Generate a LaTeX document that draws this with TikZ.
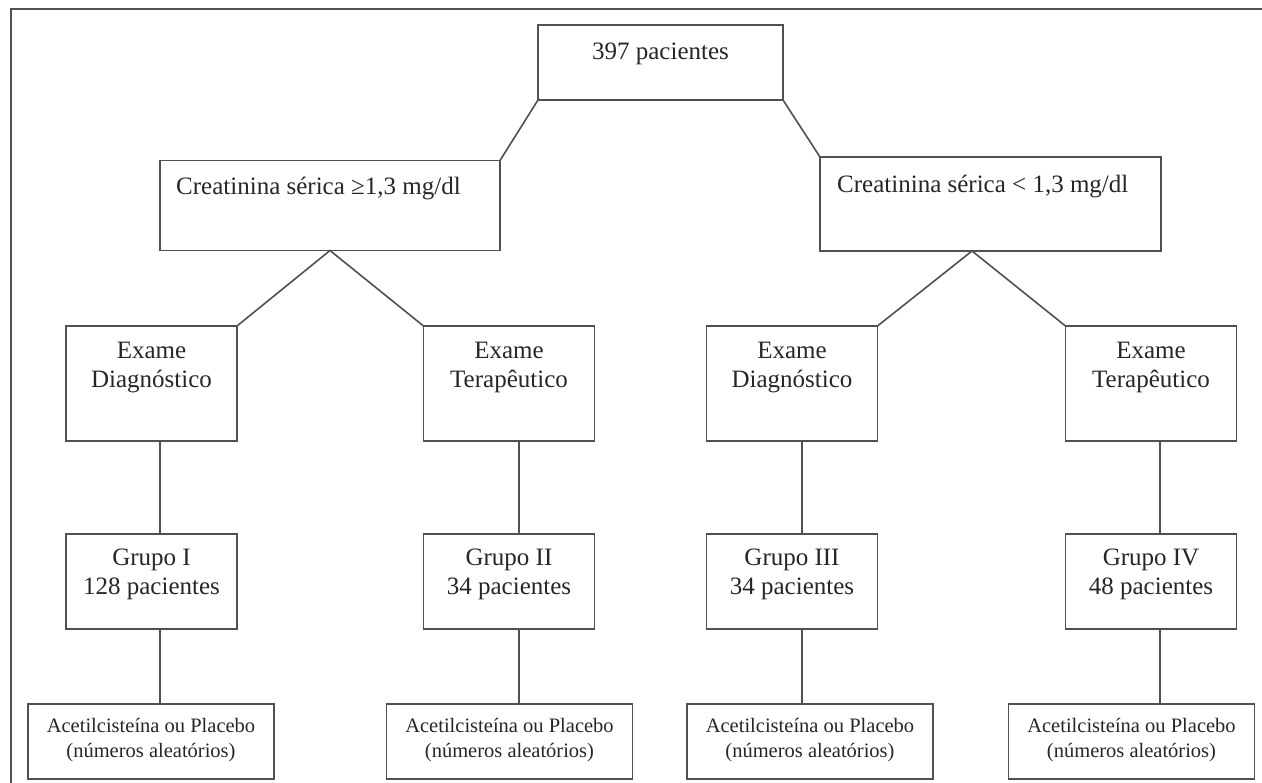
\documentclass[tikz,border=0pt]{standalone}
\usepackage{fontspec}
\setmainfont{Liberation Serif}
\usetikzlibrary{calc}
\definecolor{ln}{HTML}{505050}
\definecolor{tx}{HTML}{262626}
\tikzset{
  box/.style={draw=ln, line width=1.6pt, rectangle, inner sep=0pt, outer sep=0pt},
  bigtxt/.style={inner sep=0pt, text=tx, font=\fontsize{25}{29}\selectfont, align=center},
  smalltxt/.style={inner sep=0pt, text=tx, font=\fontsize{20.5}{25}\selectfont, align=center},
  conn/.style={draw=ln, line width=1.6pt},
  exbox/.style={box, minimum width=171pt, minimum height=115pt},
  grbox/.style={box, minimum width=171pt, minimum height=95pt},
  acbox/.style={box, minimum width=246pt, minimum height=75pt}
}
\begin{document}
\begin{tikzpicture}[x=1pt,y=-1pt]
\useasboundingbox (0,0) rectangle (1262,783);
% frame
\draw[ln, line width=1.4pt] (11,783) -- (11,9) -- (1262,9);

% top
\node[box, minimum width=245pt, minimum height=75pt] (top) at (660.5,62.5) {};
\node[bigtxt, anchor=north] (topt) at ([yshift=-17.5pt]top.north) {397 pacientes};

% creatinina
\node[box, minimum width=340pt, minimum height=90pt] (lc) at (330,205.5) {};
\node[bigtxt, anchor=north west] (lct) at (176,176.5) {Creatinina sérica ≥1,3 mg/dl};
\node[box, minimum width=341pt, minimum height=94pt] (rc) at (990.5,204) {};
\node[bigtxt, anchor=north west] (rct) at (837,174.5) {Creatinina sérica < 1,3 mg/dl};
\coordinate (rcap) at (972,251);

% exame
\node[exbox] (ex1) at (151.5,383.5) {};
\node[exbox] (ex2) at (509,383.5) {};
\node[exbox] (ex3) at (792,383.5) {};
\node[exbox] (ex4) at (1151,383.5) {};
\node[bigtxt, anchor=north] (ex1t) at ([yshift=-15.5pt]ex1.north) {Exame\\Diagnóstico};
\node[bigtxt, anchor=north] (ex2t) at ([yshift=-15.5pt]ex2.north) {Exame\\Terapêutico};
\node[bigtxt, anchor=north] (ex3t) at ([yshift=-15.5pt]ex3.north) {Exame\\Diagnóstico};
\node[bigtxt, anchor=north] (ex4t) at ([yshift=-15.5pt]ex4.north) {Exame\\Terapêutico};

% grupos
\node[grbox] (g1) at (151.5,581.5) {};
\node[grbox] (g2) at (509,581.5) {};
\node[grbox] (g3) at (792,581.5) {};
\node[grbox] (g4) at (1151,581.5) {};
\node[bigtxt, anchor=north] (g1t) at ([yshift=-14.5pt]g1.north) {Grupo I\\128 pacientes};
\node[bigtxt, anchor=north] (g2t) at ([yshift=-14.5pt]g2.north) {Grupo II\\34 pacientes};
\node[bigtxt, anchor=north] (g3t) at ([yshift=-14.5pt]g3.north) {Grupo III\\34 pacientes};
\node[bigtxt, anchor=north] (g4t) at ([yshift=-14.5pt]g4.north) {Grupo IV\\48 pacientes};

% acetilcisteina
\node[acbox] (a1) at (151,741.5) {};
\node[acbox] (a2) at (509.5,741.5) {};
\node[acbox] (a3) at (810,741.5) {};
\node[acbox] (a4) at (1131.5,741.5) {};
\foreach \i in {1,2,3,4}{
  \node[smalltxt, anchor=north] (a\i t) at ([yshift=-14pt]a\i.north) {Acetilcisteína ou Placebo\\(números aleatórios)};
}

% connectors
\draw[conn] (top.south west) -- (lc.north east);
\draw[conn] (top.south east) -- (rc.north west);
\draw[conn] (ex1.north east) -- (lc.south) -- (ex2.north west);
\draw[conn] (ex3.north east) -- (rcap) -- (ex4.north west);

\draw[conn] ([xshift=8.5pt]ex1.south) -- ([xshift=8.5pt]g1.north);
\draw[conn] ([xshift=10pt]ex2.south) -- ([xshift=10pt]g2.north);
\draw[conn] ([xshift=10pt]ex3.south) -- ([xshift=10pt]g3.north);
\draw[conn] ([xshift=9pt]ex4.south) -- ([xshift=9pt]g4.north);

\draw[conn] ([xshift=8.5pt]g1.south) -- ([xshift=8.5pt]g1.south |- a1.north);
\draw[conn] ([xshift=10pt]g2.south) -- ([xshift=10pt]g2.south |- a2.north);
\draw[conn] ([xshift=10pt]g3.south) -- ([xshift=10pt]g3.south |- a3.north);
\draw[conn] ([xshift=9pt]g4.south) -- ([xshift=9pt]g4.south |- a4.north);
\end{tikzpicture}
\end{document}
